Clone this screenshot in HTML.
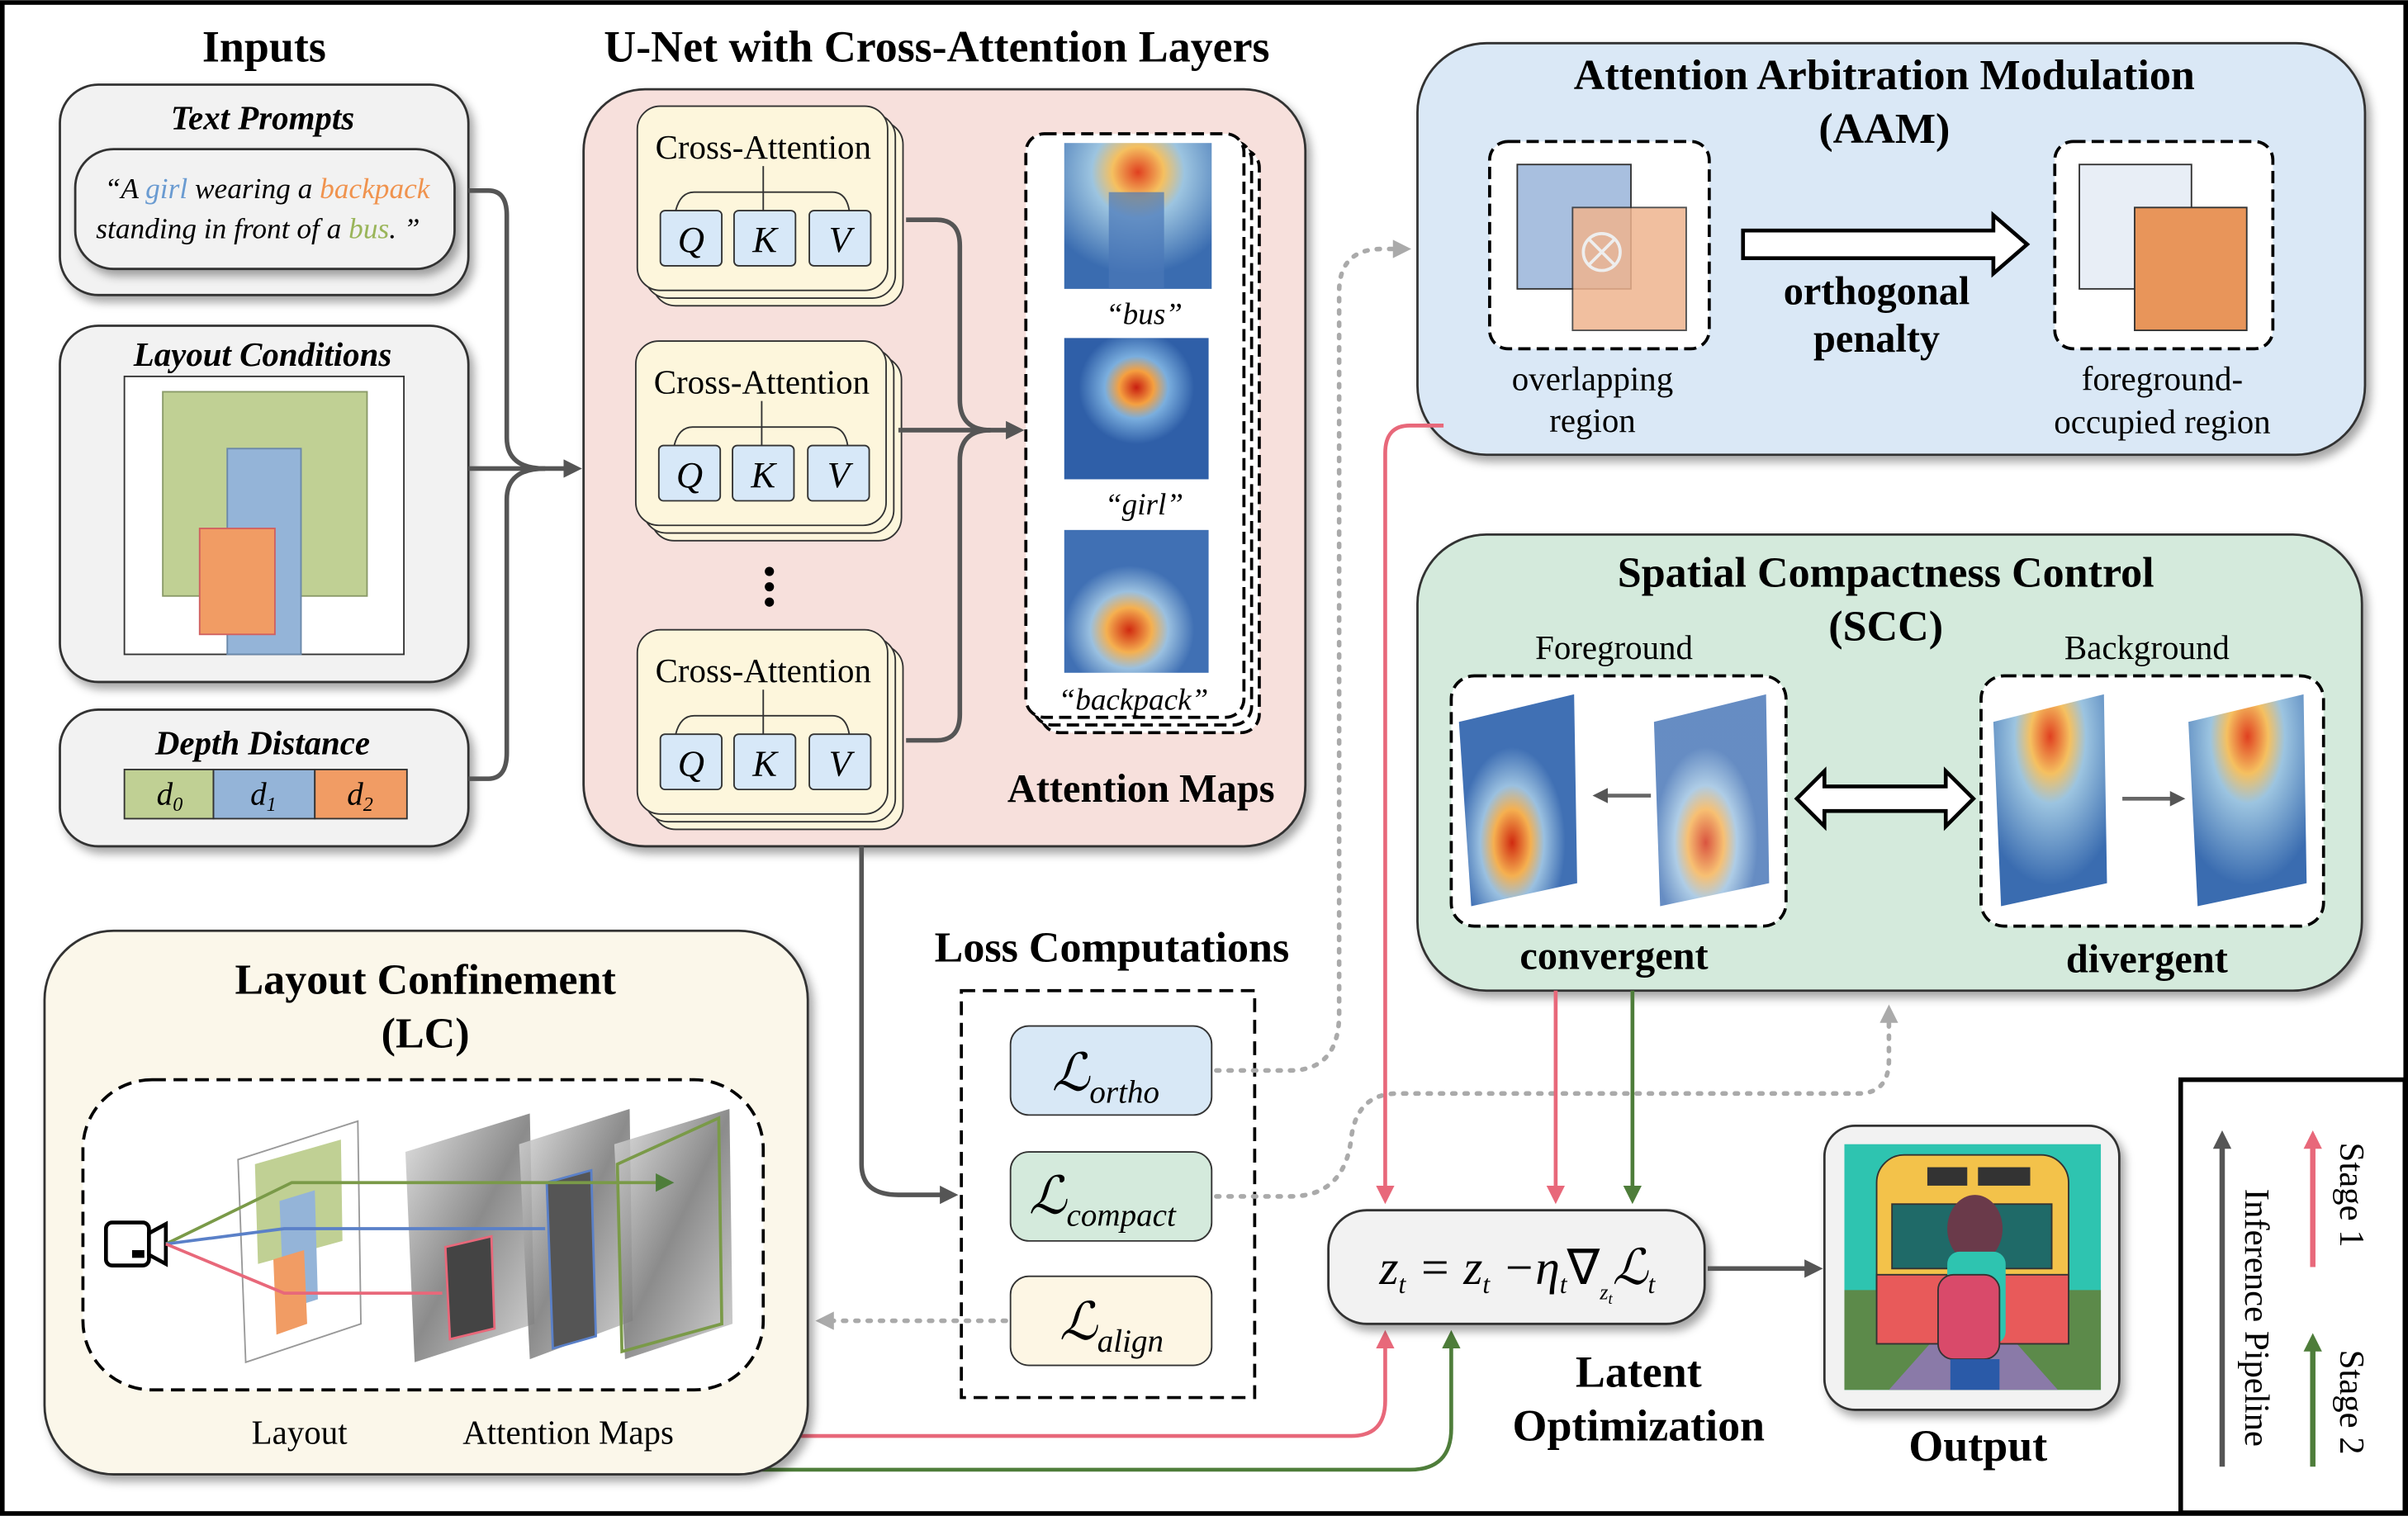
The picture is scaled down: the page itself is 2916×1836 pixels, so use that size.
<!DOCTYPE html>
<html><head><meta charset="utf-8"><style>html,body{margin:0;padding:0;background:#fff}svg{display:block}</style></head><body>
<svg xmlns="http://www.w3.org/2000/svg" width="2916" height="1836" viewBox="0 0 1568 987" font-family="Liberation Serif, serif">
<defs>
<filter id="sh" x="-10%" y="-10%" width="125%" height="130%"><feDropShadow dx="3" dy="4" stdDeviation="3" flood-color="#000" flood-opacity="0.35"/></filter>
<marker id="ag" markerWidth="10" markerHeight="10" refX="7" refY="5" orient="auto" markerUnits="userSpaceOnUse"><path d="M0,0 L10,5 L0,10 Z" fill="#555"/></marker>
<marker id="agl" markerWidth="12" markerHeight="12" refX="8" refY="6" orient="auto" markerUnits="userSpaceOnUse"><path d="M0,0 L12,6 L0,12 Z" fill="#555"/></marker>
<marker id="ad" markerWidth="12" markerHeight="12" refX="8" refY="6" orient="auto" markerUnits="userSpaceOnUse"><path d="M0,0 L12,6 L0,12 Z" fill="#aaa"/></marker>
<marker id="ap" markerWidth="12" markerHeight="12" refX="8" refY="6" orient="auto" markerUnits="userSpaceOnUse"><path d="M0,0 L12,6 L0,12 Z" fill="#e8687a"/></marker>
<marker id="agr" markerWidth="12" markerHeight="12" refX="8" refY="6" orient="auto" markerUnits="userSpaceOnUse"><path d="M0,0 L12,6 L0,12 Z" fill="#4e7d3a"/></marker>
<radialGradient id="hb" cx="50%" cy="20%" r="70%"><stop offset="0" stop-color="#e04020"/><stop offset="0.25" stop-color="#f5c060"/><stop offset="0.45" stop-color="#9cc4e0"/><stop offset="1" stop-color="#3a6cb0"/></radialGradient>
<radialGradient id="hg" cx="50%" cy="35%" r="40%"><stop offset="0" stop-color="#c81e10"/><stop offset="0.3" stop-color="#f5a040"/><stop offset="0.55" stop-color="#7aaede"/><stop offset="1" stop-color="#2f5fa8"/></radialGradient>
<radialGradient id="hp" cx="45%" cy="70%" r="45%"><stop offset="0" stop-color="#d02a10"/><stop offset="0.35" stop-color="#f5b050"/><stop offset="0.6" stop-color="#9ac0e0"/><stop offset="1" stop-color="#4070b4"/></radialGradient>
<linearGradient id="gray" x1="0" y1="0" x2="1" y2="1"><stop offset="0" stop-color="#ddd"/><stop offset="0.5" stop-color="#777"/><stop offset="1" stop-color="#ccc"/></linearGradient>
</defs>
<rect x="1.5" y="1.5" width="1565" height="984" fill="#fff" stroke="#000" stroke-width="3"/>

<!-- Inputs -->
<text x="172" y="40" font-size="29" font-weight="bold" text-anchor="middle">Inputs</text>
<rect x="39" y="55" width="266" height="137" rx="25" fill="#f2f2f2" stroke="#333" stroke-width="1.5" filter="url(#sh)"/>
<text x="171" y="84" font-size="22" font-weight="bold" font-style="italic" text-anchor="middle">Text Prompts</text>
<rect x="49" y="97" width="247" height="78" rx="25" fill="#f2f2f2" stroke="#333" stroke-width="1.5" filter="url(#sh)"/>
<text x="174" y="129" font-size="19" font-style="italic" text-anchor="middle">“A <tspan fill="#6a9bd1">girl</tspan> wearing a <tspan fill="#f0934e">backpack</tspan></text>
<text x="168" y="155" font-size="19" font-style="italic" text-anchor="middle">standing in front of a <tspan fill="#9ab55a">bus</tspan>. ”</text>

<rect x="39" y="212" width="266" height="232" rx="25" fill="#f2f2f2" stroke="#333" stroke-width="1.5" filter="url(#sh)"/>
<text x="171" y="238" font-size="22" font-weight="bold" font-style="italic" text-anchor="middle">Layout Conditions</text>
<rect x="81" y="245" width="182" height="181" fill="#fff" stroke="#333"/>
<rect x="106" y="255" width="133" height="133" fill="#c0d094" stroke="#8a9a68"/>
<rect x="148" y="292" width="48" height="134" fill="#94b4d8" stroke="#6a88aa"/>
<rect x="130" y="344" width="49" height="69" fill="#f19c64" stroke="#d06060"/>

<rect x="39" y="462" width="266" height="89" rx="25" fill="#f2f2f2" stroke="#333" stroke-width="1.5" filter="url(#sh)"/>
<text x="171" y="491" font-size="22" font-weight="bold" font-style="italic" text-anchor="middle">Depth Distance</text>
<rect x="81" y="501" width="58" height="32" fill="#c0d094" stroke="#333"/>
<rect x="139" y="501" width="66" height="32" fill="#94b4d8" stroke="#333"/>
<rect x="205" y="501" width="60" height="32" fill="#f19c64" stroke="#333"/>
<text x="102" y="524" font-size="21" font-style="italic">d<tspan font-size="13" dy="4">0</tspan></text>
<text x="163" y="524" font-size="21" font-style="italic">d<tspan font-size="13" dy="4">1</tspan></text>
<text x="226" y="524" font-size="21" font-style="italic">d<tspan font-size="13" dy="4">2</tspan></text>

<g fill="none" stroke="#555" stroke-width="3">
<path d="M305,124 H318 Q330,124 330,140 V285 Q330,305 355,305"/>
<path d="M305,507 H318 Q330,507 330,490 V325 Q330,305 355,305"/>
<path d="M305,305 H375" marker-end="url(#agl)"/>
</g>

<!-- U-Net -->
<text x="610" y="40" font-size="29" font-weight="bold" text-anchor="middle">U-Net with Cross-Attention Layers</text>
<rect x="380" y="58" width="470" height="493" rx="40" fill="#f7e0dc" stroke="#333" stroke-width="1.5" filter="url(#sh)"/>
<g id="ca">
<rect x="425" y="79" width="163" height="120" rx="15" fill="#fdf6dc" stroke="#333"/>
<rect x="420" y="74" width="163" height="120" rx="15" fill="#fdf6dc" stroke="#333"/>
<rect x="415" y="69" width="163" height="120" rx="15" fill="#fdf6dc" stroke="#333"/>
<text x="497" y="103" font-size="22" text-anchor="middle">Cross-Attention</text>
<path d="M497,108 V137 M440,137 Q443,125 452,125 H542 Q551,125 553,137" fill="none" stroke="#333"/>
<rect x="430" y="137" width="40" height="36" rx="3" fill="#d7e8f8" stroke="#333"/>
<rect x="478" y="137" width="40" height="36" rx="3" fill="#d7e8f8" stroke="#333"/>
<rect x="527" y="137" width="40" height="36" rx="3" fill="#d7e8f8" stroke="#333"/>
<text x="450" y="164" font-size="24" font-style="italic" text-anchor="middle">Q</text>
<text x="498" y="164" font-size="24" font-style="italic" text-anchor="middle">K</text>
<text x="547" y="164" font-size="24" font-style="italic" text-anchor="middle">V</text>
</g>
<use href="#ca" transform="translate(-1,153)"/>
<use href="#ca" transform="translate(0,341)"/>
<circle cx="501" cy="372" r="3" fill="#000"/><circle cx="501" cy="382" r="3" fill="#000"/><circle cx="501" cy="392" r="3" fill="#000"/>
<g fill="none" stroke="#555" stroke-width="3">
<path d="M590,143 H610 Q625,143 625,160 V260 Q625,280 645,280"/>
<path d="M590,482 H610 Q625,482 625,465 V300 Q625,280 645,280"/>
<path d="M585,280 H663" marker-end="url(#agl)"/>
</g>
<rect x="678" y="97" width="142" height="380" rx="12" fill="#fff" stroke="#000" stroke-width="2" stroke-dasharray="8,4"/>
<rect x="673" y="92" width="142" height="380" rx="12" fill="#fff" stroke="#000" stroke-width="2" stroke-dasharray="8,4"/>
<rect x="668" y="87" width="142" height="380" rx="12" fill="#fff" stroke="#000" stroke-width="2" stroke-dasharray="8,4"/>
<rect x="693" y="93" width="96" height="95" fill="url(#hb)"/>
<rect x="722" y="125" width="36" height="63" fill="#4a78b8" opacity="0.7"/>
<rect x="693" y="220" width="94" height="92" fill="url(#hg)"/>
<rect x="693" y="345" width="94" height="93" fill="url(#hp)"/>
<text x="745" y="211" font-size="20" font-style="italic" text-anchor="middle">“bus”</text>
<text x="745" y="335" font-size="20" font-style="italic" text-anchor="middle">“girl”</text>
<text x="738" y="462" font-size="20" font-style="italic" text-anchor="middle">“backpack”</text>
<text x="743" y="522" font-size="26" font-weight="bold" text-anchor="middle">Attention Maps</text>

<!-- AAM -->
<rect x="923" y="28" width="617" height="268" rx="45" fill="#dae8f6" stroke="#333" stroke-width="1.5" filter="url(#sh)"/>
<text x="1227" y="58" font-size="28" font-weight="bold" text-anchor="middle">Attention Arbitration Modulation</text>
<text x="1227" y="93" font-size="28" font-weight="bold" text-anchor="middle">(AAM)</text>
<rect x="970" y="92" width="143" height="135" rx="12" fill="#fff" stroke="#000" stroke-width="2" stroke-dasharray="8,4"/>
<rect x="988" y="107" width="74" height="81" fill="#a8bfdf" stroke="#333"/>
<rect x="1024" y="135" width="74" height="80" fill="#efb48f" stroke="#333" opacity="0.85"/>
<circle cx="1043" cy="164" r="12" fill="none" stroke="#eee" stroke-width="2"/>
<path d="M1035,156 L1051,172 M1051,156 L1035,172" stroke="#eee" stroke-width="2"/>
<text x="1037" y="254" font-size="22" text-anchor="middle">overlapping</text>
<text x="1037" y="281" font-size="22" text-anchor="middle">region</text>
<path d="M1135,150 H1298 V140 L1320,159 L1298,178 V168 H1135 Z" fill="#fff" stroke="#000" stroke-width="2.5"/>
<text x="1222" y="198" font-size="26" font-weight="bold" text-anchor="middle">orthogonal</text>
<text x="1222" y="229" font-size="26" font-weight="bold" text-anchor="middle">penalty</text>
<rect x="1338" y="92" width="142" height="135" rx="12" fill="#fff" stroke="#000" stroke-width="2" stroke-dasharray="8,4"/>
<rect x="1354" y="107" width="73" height="81" fill="#e8eef6" stroke="#333"/>
<rect x="1390" y="135" width="73" height="80" fill="#e8955a" stroke="#333"/>
<text x="1408" y="254" font-size="22" text-anchor="middle">foreground-</text>
<text x="1408" y="282" font-size="22" text-anchor="middle">occupied region</text>

<!-- SCC -->
<rect x="923" y="348" width="615" height="297" rx="45" fill="#d4eadc" stroke="#333" stroke-width="1.5" filter="url(#sh)"/>
<text x="1228" y="382" font-size="28" font-weight="bold" text-anchor="middle">Spatial Compactness Control</text>
<text x="1228" y="417" font-size="28" font-weight="bold" text-anchor="middle">(SCC)</text>
<text x="1051" y="429" font-size="22" text-anchor="middle">Foreground</text>
<text x="1398" y="429" font-size="22" text-anchor="middle">Background</text>
<rect x="945" y="440" width="218" height="163" rx="15" fill="#fff" stroke="#000" stroke-width="2" stroke-dasharray="8,4"/>
<rect x="1290" y="440" width="223" height="163" rx="15" fill="#fff" stroke="#000" stroke-width="2" stroke-dasharray="8,4"/>
<polygon points="950,470 1025,452 1027,575 958,590" fill="url(#hp)"/>
<polygon points="1077,470 1150,452 1152,575 1081,590" fill="url(#hp)" opacity="0.8"/>
<polygon points="1298,470 1370,452 1372,575 1303,590" fill="url(#hb)"/>
<polygon points="1425,470 1500,452 1502,575 1431,590" fill="url(#hb)"/>
<path d="M1075,518 H1040" stroke="#666" stroke-width="2.5" marker-end="url(#ag)"/>
<path d="M1382,520 H1420" stroke="#666" stroke-width="2.5" marker-end="url(#ag)"/>
<path d="M1170,520 L1188,502 V512 H1267 V502 L1285,520 L1267,538 V528 H1188 V538 Z" fill="#fff" stroke="#000" stroke-width="2.5"/>
<text x="1051" y="631" font-size="26" font-weight="bold" text-anchor="middle">convergent</text>
<text x="1398" y="633" font-size="26" font-weight="bold" text-anchor="middle">divergent</text>

<!-- Loss -->
<text x="724" y="626" font-size="28" font-weight="bold" text-anchor="middle">Loss Computations</text>
<rect x="626" y="645" width="191" height="265" fill="#fff" stroke="#000" stroke-width="2" stroke-dasharray="9,5"/>
<rect x="658" y="668" width="131" height="58" rx="12" fill="#d8e8f6" stroke="#333"/>
<rect x="658" y="750" width="131" height="58" rx="12" fill="#d4eadc" stroke="#333"/>
<rect x="658" y="831" width="131" height="58" rx="12" fill="#fdf6e4" stroke="#333"/>
<text x="685" y="710" font-size="34" font-style="italic">ℒ<tspan font-size="21" dy="8">ortho</tspan></text>
<text x="670" y="790" font-size="34" font-style="italic">ℒ<tspan font-size="21" dy="8">compact</tspan></text>
<text x="690" y="872" font-size="34" font-style="italic">ℒ<tspan font-size="21" dy="8">align</tspan></text>
<path d="M561,551 V758 Q561,778 585,778 H620" fill="none" stroke="#555" stroke-width="3" marker-end="url(#agl)"/>

<g fill="none" stroke="#aaa" stroke-width="3" stroke-dasharray="2,6" stroke-linecap="round">
<path d="M792,697 H840 Q872,697 872,660 V190 Q872,162 900,162 H915" marker-end="url(#ad)"/>
<path d="M792,779 H840 Q876,779 880,740 Q884,712 910,712 H1210 Q1230,712 1230,690 V658" marker-end="url(#ad)"/>
<path d="M655,860 H535" marker-end="url(#ad)"/>
</g>

<!-- pink/green -->
<g fill="none" stroke-width="2.5">
<path d="M940,277 H918 Q902,277 902,295 V780" stroke="#e8687a" marker-end="url(#ap)"/>
<path d="M1013,645 V780" stroke="#e8687a" marker-end="url(#ap)"/>
<path d="M1063,645 V780" stroke="#4e7d3a" marker-end="url(#agr)"/>
<path d="M520,935 H880 Q902,935 902,912 V870" stroke="#e8687a" marker-end="url(#ap)"/>
<path d="M495,957 H918 Q945,957 945,930 V870" stroke="#4e7d3a" marker-end="url(#agr)"/>
</g>

<!-- Latent -->
<rect x="865" y="788" width="245" height="74" rx="25" fill="#f2f2f2" stroke="#333" stroke-width="1.5" filter="url(#sh)"/>
<text x="988" y="836" font-size="32" font-style="italic" text-anchor="middle">z<tspan font-size="17" dy="6">t</tspan><tspan dy="-6"> = z</tspan><tspan font-size="17" dy="6">t</tspan><tspan dy="-6"> −η</tspan><tspan font-size="17" dy="6">t</tspan><tspan dy="-6" font-style="normal">∇</tspan><tspan font-size="14" dy="10">z</tspan><tspan font-size="10" dy="3">t</tspan><tspan dy="-13">ℒ</tspan><tspan font-size="17" dy="6">t</tspan></text>
<text x="1067" y="903" font-size="29" font-weight="bold" text-anchor="middle">Latent</text>
<text x="1067" y="938" font-size="29" font-weight="bold" text-anchor="middle">Optimization</text>
<path d="M1112,826 H1183" stroke="#555" stroke-width="3" marker-end="url(#agl)"/>

<!-- Output -->
<rect x="1188" y="733" width="192" height="185" rx="20" fill="#f2f2f2" stroke="#333" stroke-width="1.5" filter="url(#sh)"/>
<rect x="1201" y="745" width="167" height="160" fill="#2ec4b0"/>
<rect x="1201" y="840" width="167" height="65" fill="#5c8a4a"/>
<polygon points="1230,905 1340,905 1300,860 1270,860" fill="#8a7aa8"/>
<rect x="1222" y="752" width="125" height="105" rx="18" fill="#f3c24a" stroke="#333"/>
<rect x="1222" y="830" width="125" height="45" fill="#e85a5a" stroke="#333"/>
<rect x="1232" y="784" width="104" height="42" fill="#1f6a68" stroke="#333"/>
<rect x="1255" y="760" width="26" height="12" fill="#333"/><rect x="1288" y="760" width="34" height="12" fill="#333"/>
<ellipse cx="1286" cy="800" rx="18" ry="22" fill="#6a3a4a"/>
<rect x="1268" y="815" width="38" height="60" rx="8" fill="#2ec4b0"/>
<rect x="1262" y="830" width="40" height="55" rx="10" fill="#d94a6a" stroke="#333"/>
<rect x="1270" y="885" width="32" height="20" fill="#2a5aa8"/>
<text x="1288" y="951" font-size="29" font-weight="bold" text-anchor="middle">Output</text>

<!-- LC -->
<rect x="29" y="606" width="497" height="354" rx="45" fill="#fbf7ea" stroke="#333" stroke-width="1.5" filter="url(#sh)"/>
<text x="277" y="647" font-size="28" font-weight="bold" text-anchor="middle">Layout Confinement</text>
<text x="277" y="682" font-size="28" font-weight="bold" text-anchor="middle">(LC)</text>
<rect x="54" y="703" width="443" height="202" rx="45" fill="#fff" stroke="#000" stroke-width="2" stroke-dasharray="9,5"/>
<rect x="69" y="796" width="28" height="28" rx="4" fill="#fff" stroke="#000" stroke-width="2.5"/>
<path d="M97,803 L108,797 V823 L97,817 Z" fill="#fff" stroke="#000" stroke-width="2.5"/>
<rect x="86" y="814" width="8" height="5" fill="#000"/>
<polygon points="155,755 233,730 235,862 160,887" fill="#fff" stroke="#999"/>
<polygon points="166,758 222,742 223,808 168,823" fill="#c0d094"/>
<polygon points="182,782 205,775 207,846 185,853" fill="#94b4d8"/>
<polygon points="178,820 198,814 200,862 180,869" fill="#f19c64"/>
<polygon points="264,750 345,725 348,862 270,887" fill="url(#gray)" opacity="0.85"/>
<polygon points="338,745 410,722 412,860 345,885" fill="url(#gray)" opacity="0.85"/>
<polygon points="400,745 475,722 477,862 407,885" fill="url(#gray)" opacity="0.85"/>
<polygon points="290,812 320,805 322,865 293,872" fill="#444" stroke="#e8687a" stroke-width="1.5"/>
<polygon points="356,770 385,762 388,870 360,878" fill="#555" stroke="#5a80c8" stroke-width="1.5"/>
<polygon points="402,758 468,728 470,862 405,880" fill="none" stroke="#7a9a48" stroke-width="2"/>
<g stroke-width="2" fill="none">
<path d="M108,810 L190,770 H435" stroke="#7a9a48" marker-end="url(#agr)"/>
<path d="M108,810 L185,800 H355" stroke="#5a80c8"/>
<path d="M108,810 L185,842 H288" stroke="#e8687a"/>
</g>
<text x="195" y="940" font-size="22" text-anchor="middle">Layout</text>
<text x="370" y="940" font-size="22" text-anchor="middle">Attention Maps</text>

<!-- legend -->
<rect x="1420" y="703" width="146" height="282" fill="#fff" stroke="#000" stroke-width="3"/>
<path d="M1447,955 V740" stroke="#555" stroke-width="3.5" marker-end="url(#agl)"/>
<path d="M1506,825 V740" stroke="#e8687a" stroke-width="3.5" marker-end="url(#ap)"/>
<path d="M1506,955 V872" stroke="#4e7d3a" stroke-width="3.5" marker-end="url(#agr)"/>
<text transform="translate(1462,858) rotate(90)" font-size="23" text-anchor="middle">Inference Pipeline</text>
<text transform="translate(1524,778) rotate(90)" font-size="23" text-anchor="middle">Stage 1</text>
<text transform="translate(1524,913) rotate(90)" font-size="23" text-anchor="middle">Stage 2</text>
</svg>
</body></html>
